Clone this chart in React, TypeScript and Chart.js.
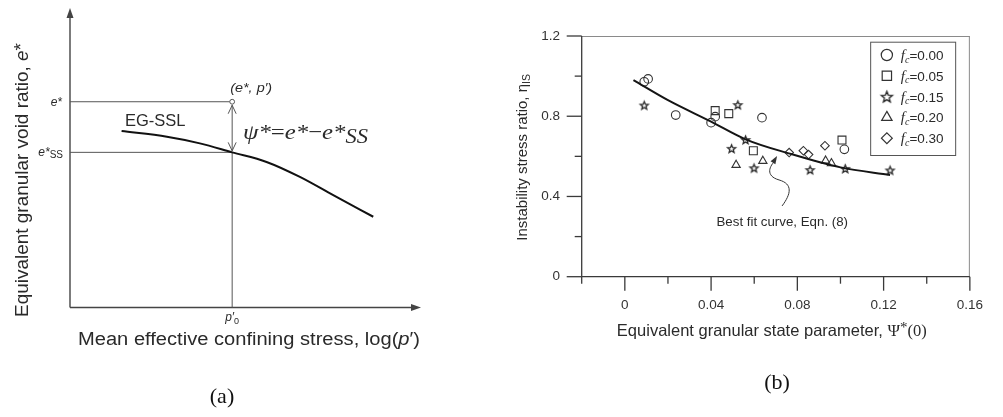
import React, { useEffect, useRef } from 'react';
import { Chart, registerables } from 'chart.js';
import { drawPoint } from 'chart.js/helpers';
Chart.register(...registerables);

// ---------------- Panel (a): schematic EG-SSL (arbitrary units) ----------------
const sslLogP = [1.47, 2.76, 3.7, 4.62, 5.6, 6.55, 7.5, 8.64];
const sslVoid = [5.89, 5.7, 5.48, 5.18, 4.86, 4.36, 3.75, 3.03];
const stateVoid = 6.87; // e*
const steadyVoid = 5.18; // e*_ss
const stateLogP = 4.62; // p'_0

// ---------------- Panel (b): instability stress ratio ----------------
const fcLabels = ['0.00', '0.05', '0.15', '0.20', '0.30'];
const psiFc000 = [0.009, 0.0108, 0.0236, 0.04, 0.0419, 0.0636, 0.1018];
const etaFc000 = [0.972, 0.986, 0.806, 0.768, 0.798, 0.793, 0.635];
const psiFc005 = [0.0419, 0.0482, 0.0596, 0.1007];
const etaFc005 = [0.828, 0.813, 0.628, 0.681];
const psiFc015 = [0.009, 0.0524, 0.056, 0.0495, 0.0599, 0.0859, 0.1022, 0.123];
const etaFc015 = [0.856, 0.858, 0.684, 0.64, 0.543, 0.534, 0.54, 0.532];
const psiFc020 = [0.0516, 0.064, 0.0931, 0.0958];
const etaFc020 = [0.557, 0.577, 0.578, 0.565];
const psiFc030 = [0.0762, 0.0828, 0.0852, 0.0928];
const etaFc030 = [0.619, 0.628, 0.609, 0.653];
const fitPsi = [0.004, 0.02, 0.04, 0.056, 0.076, 0.1, 0.123];
const fitEta = [0.98, 0.88, 0.773, 0.685, 0.615, 0.545, 0.507];
const xTickValues = [-0.02, 0, 0.02, 0.04, 0.06, 0.08, 0.1, 0.12, 0.14, 0.16];
const xTickLabels = ['', '0', '', '0.04', '', '0.08', '', '0.12', '', '0.16'];
const yTickValues = [0, 0.2, 0.4, 0.6, 0.8, 1.0, 1.2];
const yTickLabels = ['0', '', '0.4', '', '0.8', '', '1.2'];
const fitNote = 'Best fit curve, Eqn. (8)';
const fitNoteTip = { psi: 0.0706, eta: 0.602 };
const fitNoteText = { psi: 0.073, eta: 0.271 };

const SANS = '"Liberation Sans", Arial, Helvetica, sans-serif';
const SERIF = '"Liberation Serif", "Times New Roman", serif';

type Piece = { t: string; f: string; dy?: number };

function richWidth(ctx: CanvasRenderingContext2D, pieces: Piece[]) {
  let w = 0;
  for (const p of pieces) {
    ctx.font = p.f;
    w += ctx.measureText(p.t).width;
  }
  return w;
}

function drawRich(
  ctx: CanvasRenderingContext2D,
  pieces: Piece[],
  x: number,
  y: number,
  align: 'left' | 'center' | 'right' = 'left',
  targetW?: number
) {
  const w = richWidth(ctx, pieces);
  const k = targetW ? targetW / w : 1;
  ctx.save();
  ctx.translate(x, y);
  ctx.scale(k, 1);
  ctx.textAlign = 'left';
  let cx = align === 'left' ? 0 : align === 'center' ? -w / 2 : -w;
  for (const p of pieces) {
    ctx.font = p.f;
    ctx.fillText(p.t, cx, p.dy || 0);
    cx += ctx.measureText(p.t).width;
  }
  ctx.restore();
}

function makeStar(R: number, r: number, lw: number): HTMLCanvasElement {
  const s = Math.ceil(2 * R + 2 * lw + 2);
  const c = document.createElement('canvas');
  c.width = s;
  c.height = s;
  const g = c.getContext('2d')!;
  g.strokeStyle = '#222';
  g.lineWidth = lw;
  g.lineJoin = 'miter';
  g.beginPath();
  for (let k = 0; k < 10; k++) {
    const a = -Math.PI / 2 + (k * Math.PI) / 5;
    const rr = k % 2 === 0 ? R : r;
    const X = s / 2 + rr * Math.cos(a);
    const Y = s / 2 + 0.6 + rr * Math.sin(a);
    if (k === 0) g.moveTo(X, Y);
    else g.lineTo(X, Y);
  }
  g.closePath();
  g.stroke();
  return c;
}

function seg(ctx: CanvasRenderingContext2D, x1: number, y1: number, x2: number, y2: number) {
  ctx.beginPath();
  ctx.moveTo(x1, y1);
  ctx.lineTo(x2, y2);
  ctx.stroke();
}

const schematicPlugin = {
  id: 'schematic',
  beforeDatasetsDraw(chart: any) {
    const { ctx, chartArea, scales } = chart;
    const { left, right, top, bottom } = chartArea;
    const x = scales.x;
    const y = scales.y;
    ctx.save();
    ctx.strokeStyle = '#444';
    ctx.fillStyle = '#444';
    ctx.lineWidth = 1.4;
    seg(ctx, left, bottom, left, top + 8);
    seg(ctx, left, bottom, right - 8, bottom);
    ctx.beginPath();
    ctx.moveTo(left, top);
    ctx.lineTo(left - 3.5, top + 10);
    ctx.lineTo(left + 3.5, top + 10);
    ctx.closePath();
    ctx.fill();
    ctx.beginPath();
    ctx.moveTo(right, bottom);
    ctx.lineTo(right - 10, bottom - 3.5);
    ctx.lineTo(right - 10, bottom + 3.5);
    ctx.closePath();
    ctx.fill();

    const px = x.getPixelForValue(stateLogP);
    const pyS = y.getPixelForValue(stateVoid);
    const pySS = y.getPixelForValue(steadyVoid);
    ctx.strokeStyle = '#555';
    ctx.lineWidth = 1;
    seg(ctx, left, pyS, px - 2.5, pyS);
    seg(ctx, left, pySS, px, pySS);
    seg(ctx, px, pySS, px, bottom);
    // double arrow psi*
    seg(ctx, px, pyS + 3, px, pySS - 1);
    seg(ctx, px - 4, pyS + 12, px, pyS + 3.5);
    seg(ctx, px + 4, pyS + 12, px, pyS + 3.5);
    seg(ctx, px - 4, pySS - 10, px, pySS - 1.5);
    seg(ctx, px + 4, pySS - 10, px, pySS - 1.5);
    ctx.beginPath();
    ctx.arc(px, pyS, 2.4, 0, Math.PI * 2);
    ctx.stroke();
    ctx.restore();
  },
  afterDatasetsDraw(chart: any) {
    const { ctx, scales } = chart;
    const x = scales.x;
    const y = scales.y;
    const px = x.getPixelForValue(stateLogP);
    const pyS = y.getPixelForValue(stateVoid);
    const pySS = y.getPixelForValue(steadyVoid);
    ctx.save();
    ctx.fillStyle = '#2a2a2a';
    ctx.textBaseline = 'alphabetic';
    // point label
    drawRich(ctx, [{ t: '(e*, p\u2032)', f: `italic 12px ${SANS}` }], px - 2, pyS - 9.5, 'left', 42);
    // axis value labels
    drawRich(ctx, [{ t: 'e*', f: `italic 12px ${SANS}` }], 62, pyS + 4.5, 'right');
    drawRich(
      ctx,
      [
        { t: 'e*', f: `italic 12px ${SANS}` },
        { t: 'SS', f: `10px ${SANS}`, dy: 2 },
      ],
      63,
      pySS + 3.5,
      'right'
    );
    drawRich(
      ctx,
      [
        { t: 'p\u2032', f: `italic 12px ${SANS}` },
        { t: '0', f: `9px ${SANS}`, dy: 3 },
      ],
      px,
      321,
      'center'
    );
    // curve label
    ctx.font = `16.5px ${SANS}`;
    ctx.textAlign = 'left';
    ctx.fillText('EG-SSL', 125, 125.5);
    // equation
    drawRich(
      ctx,
      [
        { t: '\u03C8*', f: `italic 22px ${SERIF}` },
        { t: '=', f: `22px ${SERIF}` },
        { t: 'e*', f: `italic 22px ${SERIF}` },
        { t: '\u2212', f: `22px ${SERIF}` },
        { t: 'e*', f: `italic 22px ${SERIF}` },
        { t: 'SS', f: `italic 20px ${SERIF}`, dy: 4 },
      ],
      243,
      139,
      'left',
      125
    );
    // axis titles
    drawRich(
      ctx,
      [
        { t: 'Mean effective confining stress, log(', f: `18px ${SANS}` },
        { t: 'p', f: `italic 18px ${SANS}` },
        { t: '\u2032)', f: `18px ${SANS}` },
      ],
      249,
      345,
      'center',
      342
    );
    ctx.save();
    ctx.translate(27.5, 180);
    ctx.rotate(-Math.PI / 2);
    drawRich(
      ctx,
      [
        { t: 'Equivalent granular void ratio, ', f: `18px ${SANS}` },
        { t: 'e', f: `italic 18px ${SANS}` },
        { t: '*', f: `18px ${SANS}`, dy: -1 },
      ],
      0,
      0,
      'center',
      274
    );
    ctx.restore();
    // caption
    ctx.fillStyle = '#111';
    ctx.font = `22px ${SERIF}`;
    ctx.textAlign = 'center';
    ctx.textBaseline = 'middle';
    ctx.fillText('(a)', 222, 397);
    ctx.restore();
  },
};

const starPlot = makeStar(4.2, 1.8, 1.25);
const starLegend = makeStar(5.8, 2.5, 1.3);
const markerStyles: any[] = ['circle', 'rect', starPlot, 'triangle', 'rectRot'];
const legendStyles: any[] = ['circle', 'rect', starLegend, 'triangle', 'rectRot'];
const markerRadii = [4.3, 5.6, 4.5, 4.8, 4.3];
const legendRadii = [5.6, 6.6, 6, 6, 5.4];

const scatterPlugin = {
  id: 'scatterDecor',
  afterDatasetsDraw(chart: any) {
    const { ctx, chartArea, scales } = chart;
    const { left, right, top, bottom } = chartArea;
    const x = scales.x;
    const y = scales.y;
    ctx.save();
    // frame
    ctx.lineWidth = 1;
    ctx.strokeStyle = '#8a8a8a';
    seg(ctx, left, top + 0.5, right, top + 0.5);
    seg(ctx, right - 0.5, top, right - 0.5, bottom);
    ctx.strokeStyle = '#3a3a3a';
    ctx.lineWidth = 1.3;
    seg(ctx, left, top, left, bottom);
    seg(ctx, left, bottom, right, bottom);
    // ticks
    xTickValues.forEach((v, i) => {
      const p = x.getPixelForValue(v);
      const len = xTickLabels[i] ? 14 : 7;
      seg(ctx, p, bottom, p, bottom + len);
    });
    yTickValues.forEach((v, i) => {
      const p = y.getPixelForValue(v);
      const len = yTickLabels[i] ? 15 : 7;
      seg(ctx, left - len, p, left, p);
    });

    // legend
    const lx0 = right - 99.7;
    const ly0 = top + 5.7;
    ctx.strokeStyle = '#555';
    ctx.lineWidth = 1;
    ctx.strokeRect(lx0 + 0.5, ly0 + 0.5, 85, 113.3);
    fcLabels.forEach((fc, k) => {
      const cy = ly0 + 13.3 + k * 20.8;
      const cx = lx0 + 16.7;
      ctx.strokeStyle = '#333';
      ctx.fillStyle = 'rgba(0,0,0,0)';
      ctx.lineWidth = 1.2;
      drawPoint(ctx, { pointStyle: legendStyles[k], radius: legendRadii[k], rotation: 0, borderWidth: 1.2 } as any, cx, cy);
      ctx.fillStyle = '#2a2a2a';
      ctx.textBaseline = 'alphabetic';
      drawRich(
        ctx,
        [
          { t: 'f', f: `italic 15px ${SERIF}` },
          { t: 'c', f: `italic 10px ${SERIF}`, dy: 2.5 },
          { t: '=' + fc, f: `13.5px ${SANS}` },
        ],
        cx + 14,
        cy + 5,
        'left'
      );
    });

    // best-fit annotation
    const tx = x.getPixelForValue(fitNoteTip.psi);
    const ty = y.getPixelForValue(fitNoteTip.eta);
    ctx.strokeStyle = '#333';
    ctx.fillStyle = '#333';
    ctx.lineWidth = 1;
    ctx.beginPath();
    ctx.moveTo(tx + 5, ty + 50);
    ctx.bezierCurveTo(tx + 14, ty + 38, tx + 16, ty + 28, tx + 2, ty + 24);
    ctx.bezierCurveTo(tx - 12, ty + 20, tx - 8, ty + 10, tx - 1, ty + 4);
    ctx.stroke();
    const ang = Math.atan2(-10, 6);
    ctx.beginPath();
    ctx.moveTo(tx, ty);
    ctx.lineTo(tx - 8 * Math.cos(ang) + 2.8 * Math.sin(ang), ty - 8 * Math.sin(ang) - 2.8 * Math.cos(ang));
    ctx.lineTo(tx - 8 * Math.cos(ang) - 2.8 * Math.sin(ang), ty - 8 * Math.sin(ang) + 2.8 * Math.cos(ang));
    ctx.closePath();
    ctx.fill();
    ctx.fillStyle = '#2a2a2a';
    ctx.font = `13.3px ${SANS}`;
    ctx.textAlign = 'center';
    ctx.textBaseline = 'middle';
    ctx.fillText(fitNote, x.getPixelForValue(fitNoteText.psi), y.getPixelForValue(fitNoteText.eta));

    // axis titles
    ctx.textBaseline = 'alphabetic';
    drawRich(
      ctx,
      [
        { t: 'Equivalent granular state parameter, ', f: `16.5px ${SANS}` },
        { t: '\u03A8', f: `17px ${SERIF}` },
        { t: '*', f: `15px ${SERIF}`, dy: -4 },
        { t: '(0)', f: `16.5px ${SERIF}` },
      ],
      (left + right) / 2 - 4,
      336,
      'center'
    );
    ctx.save();
    ctx.translate(left - 55, (top + bottom) / 2 + 1);
    ctx.rotate(-Math.PI / 2);
    drawRich(
      ctx,
      [
        { t: 'Instability stress ratio, ', f: `15px ${SANS}` },
        { t: '\u03B7', f: `15px ${SANS}` },
        { t: 'IS', f: `10.5px ${SANS}`, dy: 3 },
      ],
      0,
      0,
      'center'
    );
    ctx.restore();
    // caption
    ctx.fillStyle = '#111';
    ctx.font = `22px ${SERIF}`;
    ctx.textAlign = 'center';
    ctx.textBaseline = 'middle';
    ctx.fillText('(b)', 297, 383);
    ctx.restore();
  },
};

export default function App() {
  const refA = useRef<HTMLCanvasElement>(null);
  const refB = useRef<HTMLCanvasElement>(null);

  useEffect(() => {
    const chartA = new Chart(refA.current!, {
      type: 'scatter',
      data: {
        datasets: [
          {
            label: 'EG-SSL',
            data: sslLogP.map((v, i) => ({ x: v, y: sslVoid[i] })),
            showLine: true,
            borderColor: '#111',
            borderWidth: 2,
            pointRadius: 0,
            cubicInterpolationMode: 'monotone',
            fill: false,
          } as any,
        ],
      },
      options: {
        responsive: false,
        animation: false,
        devicePixelRatio: 1,
        layout: { padding: { left: 70, top: 8, right: 59, bottom: 109.5 } },
        plugins: { legend: { display: false }, tooltip: { enabled: false } },
        scales: {
          x: { type: 'linear', min: 0, max: 10, display: false },
          y: { type: 'linear', min: 0, max: 10, display: false },
        },
      },
      plugins: [schematicPlugin as any],
    });

    const seriesPsi = [psiFc000, psiFc005, psiFc015, psiFc020, psiFc030];
    const seriesEta = [etaFc000, etaFc005, etaFc015, etaFc020, etaFc030];

    const chartB = new Chart(refB.current!, {
      type: 'scatter',
      data: {
        datasets: [
          {
            label: 'Best fit curve',
            data: fitPsi.map((v, i) => ({ x: v, y: fitEta[i] })),
            showLine: true,
            borderColor: '#151515',
            borderWidth: 2,
            pointRadius: 0,
            cubicInterpolationMode: 'monotone',
            fill: false,
          } as any,
          ...fcLabels.map(
            (fc, k) =>
              ({
                label: 'fc=' + fc,
                data: seriesPsi[k].map((v, i) => ({ x: v, y: seriesEta[k][i] })),
                showLine: false,
                pointStyle: markerStyles[k],
                pointRadius: markerRadii[k],
                pointBorderColor: '#333',
                pointBackgroundColor: 'rgba(0,0,0,0)',
                pointBorderWidth: 1.1,
              } as any)
          ),
        ],
      },
      options: {
        responsive: false,
        animation: false,
        devicePixelRatio: 1,
        layout: { padding: { left: 41.7, right: 20, top: 36, bottom: 100.3 } },
        plugins: { legend: { display: false }, tooltip: { enabled: false } },
        scales: {
          x: {
            type: 'linear',
            min: -0.02,
            max: 0.16,
            afterBuildTicks: (s: any) => {
              s.ticks = xTickValues.map((v) => ({ value: v }));
            },
            afterFit: (s: any) => {
              s.height = 40;
            },
            grid: { display: false, drawTicks: false },
            border: { display: false },
            ticks: {
              autoSkip: false,
              maxRotation: 0,
              padding: 20,
              color: '#333',
              font: { family: SANS, size: 13.5 },
              callback: (v: any) => {
                const i = xTickValues.findIndex((t) => Math.abs(t - Number(v)) < 1e-9);
                return i >= 0 ? xTickLabels[i] : '';
              },
            },
          },
          y: {
            type: 'linear',
            min: 0,
            max: 1.2,
            afterBuildTicks: (s: any) => {
              s.ticks = yTickValues.map((v) => ({ value: v }));
            },
            afterFit: (s: any) => {
              s.width = 60;
            },
            grid: { display: false, drawTicks: false },
            border: { display: false },
            ticks: {
              autoSkip: false,
              padding: 21.7,
              color: '#333',
              font: { family: SANS, size: 13.5 },
              callback: (v: any) => {
                const i = yTickValues.findIndex((t) => Math.abs(t - Number(v)) < 1e-9);
                return i >= 0 ? yTickLabels[i] : '';
              },
            },
          },
        },
      },
      plugins: [scatterPlugin as any],
    });

    return () => {
      chartA.destroy();
      chartB.destroy();
    };
  }, []);

  return (
    <div style={{ position: 'fixed', left: 0, top: 0, width: 1003, height: 417, background: '#fff' }}>
      <canvas
        ref={refA}
        width={480}
        height={417}
        style={{ position: 'absolute', left: 0, top: 0, width: 480, height: 417 }}
      />
      <canvas
        ref={refB}
        width={523}
        height={417}
        style={{ position: 'absolute', left: 480, top: 0, width: 523, height: 417 }}
      />
    </div>
  );
}
